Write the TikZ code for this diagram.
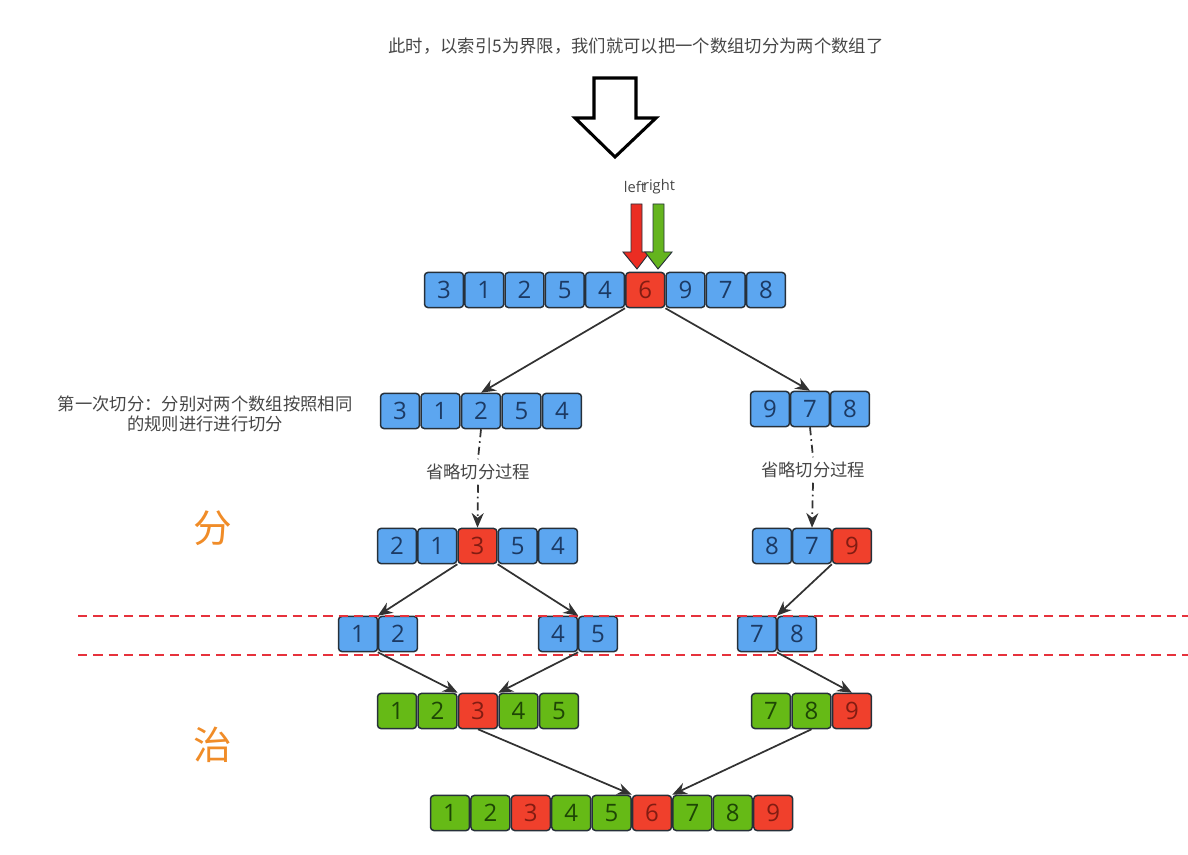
\documentclass[tikz,border=0pt]{standalone}
\usepackage{fontspec}
\setmainfont{Open Sans}
\newfontfamily\cjk{Noto Sans CJK SC}
\usepackage{tikz}
\usetikzlibrary{arrows.meta}

\definecolor{cellblue}{RGB}{92,166,240}
\definecolor{cellred}{RGB}{240,64,44}
\definecolor{cellgreen}{RGB}{102,186,22}
\definecolor{cellline}{RGB}{38,48,58}
\definecolor{bluetext}{RGB}{28,58,100}
\definecolor{redtext}{RGB}{130,28,18}
\definecolor{greentext}{RGB}{30,70,5}
\definecolor{linegray}{RGB}{50,50,50}
\definecolor{notegray}{RGB}{70,70,70}
\definecolor{fenorange}{RGB}{240,140,40}
\definecolor{cutred}{RGB}{230,50,60}
\definecolor{arrred}{RGB}{235,45,35}
\definecolor{arrgreen}{RGB}{100,180,30}

\tikzset{
  cell/.style={draw=cellline,line width=1.1pt,rounded corners=2.5pt,minimum width=29.2pt,minimum height=26.3pt,inner sep=0pt,font=\fontsize{18}{18}\selectfont},
  blu/.style={cell,fill=cellblue,text=bluetext},
  rd/.style={cell,fill=cellred,text=redtext},
  grn/.style={cell,fill=cellgreen,text=greentext},
  conn/.style={draw=linegray,line width=1.3pt,-{Stealth[length=11pt,width=9pt]}},
  skip/.style={draw=linegray,line width=1.3pt,dash pattern=on 6pt off 3pt on 1.2pt off 3pt},
  note/.style={text=notegray,font=\cjk\fontsize{13}{15}\selectfont},
  tag/.style={text=notegray,font=\fontsize{11}{11}\selectfont},
  fen/.style={text=fenorange,font=\cjk\fontsize{29}{29}\selectfont},
  cutline/.style={draw=cutred,line width=1.1pt,dash pattern=on 7pt off 4.5pt},
}

\begin{document}
\begin{tikzpicture}[x=0.75pt,y=-0.75pt]
      \useasboundingbox (0,0) rectangle (1188,855);
      \node[note] (head) at (636,46) {此时，以索引5为界限，我们就可以把一个数组切分为两个数组了};
      \draw[line width=2.3pt,fill=white] (594,78) -- (636,78) -- (636,118) -- (656,118)
        -- (615,157) -- (575,118) -- (594,118) -- cycle;
      \node[tag] (lt) at (635,187) {left};
      \node[tag] (rt) at (659,187) {right};
      \draw[draw=cellline,line width=0.7pt,fill=arrred] (631,204) -- (642,204) -- (642,252)
        -- (650,252) -- (637,269) -- (623,252) -- (631,252) -- cycle;
      \draw[draw=cellline,line width=0.7pt,fill=arrgreen] (653,204) -- (664,204) -- (664,252)
        -- (672,252) -- (658,269) -- (645,252) -- (653,252) -- cycle;
      \foreach \v/\s [count=\i] in {3/blu,1/blu,2/blu,5/blu,4/blu,6/rd,9/blu,7/blu,8/blu} {
        \node[\s] (a\i) at ({444+40.25*(\i-1)},290) {\v};
      }
      \foreach \v [count=\i] in {3,1,2,5,4} {
        \node[blu] (b\i) at ({400+40.5*(\i-1)},411) {\v};
      }
      \foreach \v [count=\i] in {9,7,8} {
        \node[blu] (c\i) at ({770+40*(\i-1)},409) {\v};
      }
      \foreach \v/\s [count=\i] in {2/blu,1/blu,3/rd,5/blu,4/blu} {
        \node[\s] (d\i) at ({397+40.25*(\i-1)},546) {\v};
      }
      \foreach \v/\s [count=\i] in {8/blu,7/blu,9/rd} {
        \node[\s] (e\i) at ({772+40*(\i-1)},546) {\v};
      }
      \foreach \v [count=\i] in {1,2} {
        \node[blu] (f\i) at ({358+40*(\i-1)},634) {\v};
        \node[blu] (g\i) at ({558+40*(\i-1)},634) {\the\numexpr\v+3\relax};
        \node[blu] (h\i) at ({757+40*(\i-1)},634) {\the\numexpr\v+6\relax};
      }
      \foreach \v/\s [count=\i] in {1/grn,2/grn,3/rd,4/grn,5/grn} {
        \node[\s] (k\i) at ({397+40.5*(\i-1)},711) {\v};
      }
      \foreach \v/\s [count=\i] in {7/grn,8/grn,9/rd} {
        \node[\s] (m\i) at ({771+40.5*(\i-1)},711) {\v};
      }
      \foreach \v/\s [count=\i] in {1/grn,2/grn,3/rd,4/grn,5/grn,6/rd,7/grn,8/grn,9/rd} {
        \node[\s] (n\i) at ({450+40.4*(\i-1)},813) {\v};
      }
      \node[note,align=center] (first) at (205,414) {第一次切分：分别对两个数组按照相同\\的规则进行进行切分};
      \node[note] (omL) at (478,472) {省略切分过程};
      \node[note] (omR) at (813,470) {省略切分过程};
      \node[fen] (fen) at (213,528) {分};
      \node[fen] (zhi) at (213,745) {治};
      \draw[cutline] (78,616) -- (1188,616);
      \draw[cutline] (78,655) -- (1188,655);
      \draw[conn] (a6.south west) -- (b3.north);
      \draw[conn] (a6.south east) -- (c2.north);
      \draw[skip] (b3.south) -- (omL.north);
      \draw[skip,-{Stealth[length=11pt,width=9pt]}] (omL.south) -- (d3.north);
      \draw[skip] (c2.south) -- (omR.north);
      \draw[skip,-{Stealth[length=11pt,width=9pt]}] (omR.south) -- (e2.north);
      \draw[conn] (d3.south west) -- (f2.north west);
      \draw[conn] (d3.south east) -- (g1.north east);
      \draw[conn] (e3.south west) -- (h2.north west);
      \draw[conn] (f2.south west) -- (k2.north east);
      \draw[conn] (g1.south east) -- (k4.north west);
      \draw[conn] (h2.south west) -- (m3.north);
      \draw[conn] (k3.south) -- (n5.north east);
      \draw[conn] (m2.south) -- (n7.north west);
    \end{tikzpicture}
\end{document}
